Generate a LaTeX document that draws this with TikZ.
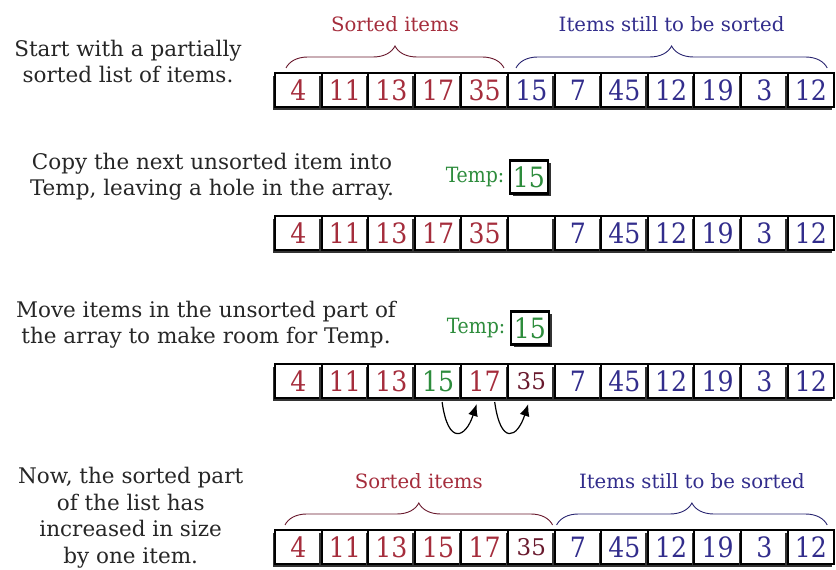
\documentclass[tikz,border=0pt]{standalone}
\usepackage{fontspec}
\setmainfont{DejaVu Serif}
\newfontfamily\narrowfont{DejaVu Serif Condensed}
\usepackage{xcolor}
\usepackage{tikz}
\usetikzlibrary{arrows.meta, positioning, shadows, decorations.pathreplacing}
\definecolor{sortedred}{RGB}{165,45,60}
\definecolor{movedred}{RGB}{105,25,45}
\definecolor{unsortedblue}{RGB}{50,45,140}
\definecolor{tempgreen}{RGB}{45,140,60}
\tikzstyle{cell} = [rectangle,
    minimum width=46.6pt,
    minimum height=34pt,
    inner sep=0pt,
    text centered,
    draw=black,
    line width=2pt,
    fill=white,
    drop shadow={shadow xshift=-2.5pt, shadow yshift=-3pt, fill=black!80, opacity=1},
    font=\narrowfont\fontsize{28}{30}\selectfont]
\tikzstyle{sorted} = [cell, text=sortedred]
\tikzstyle{moved} = [cell, text=movedred, font=\fontsize{23}{28}\selectfont]
\tikzstyle{unsorted} = [cell, text=unsortedblue]
\tikzstyle{inserted} = [cell, text=tempgreen]
\tikzstyle{temp} = [rectangle,
    minimum width=38pt,
    minimum height=33pt,
    inner sep=0pt,
    draw=black,
    line width=2.4pt,
    fill=white,
    drop shadow={shadow xshift=2.5pt, shadow yshift=-3pt, fill=black!80, opacity=1},
    text=tempgreen,
    font=\narrowfont\fontsize{28}{30}\selectfont]
\tikzstyle{temp_label} = [text=tempgreen, font=\narrowfont\fontsize{21}{24}\selectfont]
\tikzstyle{note} = [align=center,
    text=black!85,
    font=\fontsize{21.5}{26.5}\selectfont]
\tikzstyle{sorted_brace} = [decorate, decoration={brace, amplitude=22pt}, draw=movedred, line width=0.9pt]
\tikzstyle{unsorted_brace} = [decorate, decoration={brace, amplitude=22pt}, draw=unsortedblue!80!black, line width=0.9pt]
\tikzstyle{sorted_label} = [text=sortedred, font=\fontsize{19.7}{22}\selectfont]
\tikzstyle{unsorted_label} = [text=unsortedblue, font=\fontsize{19.7}{22}\selectfont]
\tikzstyle{arrow} = [line width=1.2pt, -{Latex[length=12pt, width=10pt]}]

\begin{document}
\begin{tikzpicture}[x=1pt, y=1pt, node distance=46.6pt]
        \useasboundingbox (0,0) rectangle (836,570);

        \node (start_note) [note] at (128,508.5) {Start with a partially\\sorted list of items.};
        \node (start_1) [sorted] at (298.3,480) {4};
        \node (start_2) [sorted, right of=start_1] {11};
        \node (start_3) [sorted, right of=start_2] {13};
        \node (start_4) [sorted, right of=start_3] {17};
        \node (start_5) [sorted, right of=start_4] {35};
        \node (start_6) [unsorted, right of=start_5] {15};
        \node (start_7) [unsorted, right of=start_6] {7};
        \node (start_8) [unsorted, right of=start_7] {45};
        \node (start_9) [unsorted, right of=start_8] {12};
        \node (start_10) [unsorted, right of=start_9] {19};
        \node (start_11) [unsorted, right of=start_10] {3};
        \node (start_12) [unsorted, right of=start_11] {12};
        \coordinate (start_sorted_left) at ([xshift=12pt, yshift=4pt]start_1.north west);
        \coordinate (start_sorted_right) at ([xshift=-5pt, yshift=4pt]start_5.north east);
        \coordinate (start_unsorted_left) at ([xshift=9pt, yshift=4pt]start_6.north west);
        \coordinate (start_unsorted_right) at ([xshift=-8pt, yshift=4pt]start_12.north east);
        \draw [sorted_brace] (start_sorted_left) -- (start_sorted_right)
            node (start_sorted_label) [sorted_label, midway, yshift=44pt] {Sorted items};
        \draw [unsorted_brace] (start_unsorted_left) -- (start_unsorted_right)
            node (start_unsorted_label) [unsorted_label, midway, yshift=44pt] {Items still to be sorted};

        \node (copy_note) [note] at (212,393.5) {Copy the next unsorted item into\\Temp, leaving a hole in the array.};
        \node (copy_temp) [temp] at (529,393) {15};
        \node (copy_temp_label) [temp_label, left=1pt of copy_temp] {Temp:};
        \node (copy_1) [sorted] at (298.3,337) {4};
        \node (copy_2) [sorted, right of=copy_1] {11};
        \node (copy_3) [sorted, right of=copy_2] {13};
        \node (copy_4) [sorted, right of=copy_3] {17};
        \node (copy_5) [sorted, right of=copy_4] {35};
        \node (copy_6) [cell, right of=copy_5] {};
        \node (copy_7) [unsorted, right of=copy_6] {7};
        \node (copy_8) [unsorted, right of=copy_7] {45};
        \node (copy_9) [unsorted, right of=copy_8] {12};
        \node (copy_10) [unsorted, right of=copy_9] {19};
        \node (copy_11) [unsorted, right of=copy_10] {3};
        \node (copy_12) [unsorted, right of=copy_11] {12};

        \node (move_note) [note] at (206,245.5) {Move items in the unsorted part of\\the array to make room for Temp.};
        \node (move_temp) [temp] at (530,242) {15};
        \node (move_temp_label) [temp_label, left=1pt of move_temp] {Temp:};
        \node (move_1) [sorted] at (298.3,189) {4};
        \node (move_2) [sorted, right of=move_1] {11};
        \node (move_3) [sorted, right of=move_2] {13};
        \node (move_4) [inserted, right of=move_3] {15};
        \node (move_5) [sorted, right of=move_4] {17};
        \node (move_6) [moved, right of=move_5] {35};
        \node (move_7) [unsorted, right of=move_6] {7};
        \node (move_8) [unsorted, right of=move_7] {45};
        \node (move_9) [unsorted, right of=move_8] {12};
        \node (move_10) [unsorted, right of=move_9] {19};
        \node (move_11) [unsorted, right of=move_10] {3};
        \node (move_12) [unsorted, right of=move_11] {12};
        \draw [arrow] ([xshift=4pt, yshift=-3pt]move_4.south) .. controls +(6,-44) and +(-11,-34) .. ([xshift=-8pt, yshift=-5pt]move_5.south);
        \draw [arrow] ([xshift=10pt, yshift=-3pt]move_5.south) .. controls +(6,-44) and +(-11,-34) .. ([xshift=-3pt, yshift=-5pt]move_6.south);

        \node (done_note) [note] at (130.7,52.5) {Now, the sorted part\\of the list has\\increased in size\\by one item.};
        \node (done_1) [sorted] at (298.3,23) {4};
        \node (done_2) [sorted, right of=done_1] {11};
        \node (done_3) [sorted, right of=done_2] {13};
        \node (done_4) [sorted, right of=done_3] {15};
        \node (done_5) [sorted, right of=done_4] {17};
        \node (done_6) [moved, right of=done_5] {35};
        \node (done_7) [unsorted, right of=done_6] {7};
        \node (done_8) [unsorted, right of=done_7] {45};
        \node (done_9) [unsorted, right of=done_8] {12};
        \node (done_10) [unsorted, right of=done_9] {19};
        \node (done_11) [unsorted, right of=done_10] {3};
        \node (done_12) [unsorted, right of=done_11] {12};
        \coordinate (done_sorted_left) at ([xshift=11pt, yshift=4pt]done_1.north west);
        \coordinate (done_sorted_right) at ([xshift=-3pt, yshift=4pt]done_6.north east);
        \coordinate (done_unsorted_left) at ([xshift=3pt, yshift=4pt]done_7.north west);
        \coordinate (done_unsorted_right) at ([xshift=-8pt, yshift=4pt]done_12.north east);
        \draw [sorted_brace] (done_sorted_left) -- (done_sorted_right)
            node (done_sorted_label) [sorted_label, midway, yshift=44pt] {Sorted items};
        \draw [unsorted_brace] (done_unsorted_left) -- (done_unsorted_right)
            node (done_unsorted_label) [unsorted_label, midway, yshift=44pt] {Items still to be sorted};
\end{tikzpicture}
\end{document}
